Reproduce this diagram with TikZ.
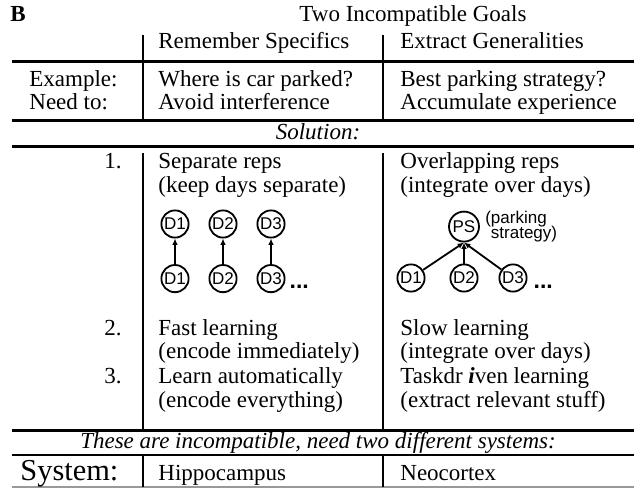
\documentclass[tikz,border=0pt]{standalone}
\usepackage{fontspec}
\setmainfont{Liberation Serif}
\newfontfamily\circfont{Liberation Sans}
\usetikzlibrary{positioning,arrows.meta}

\begin{document}
\begin{tikzpicture}[x=0.5pt,y=-0.5pt,
   txt/.style={anchor=base west,inner sep=0pt,font=\fontsize{11.5}{13}\selectfont},
   num/.style={txt,anchor=base east},
   mid/.style={txt,anchor=base,font=\fontsize{11.5}{13}\selectfont\itshape},
   rule/.style={line width=1.5pt},
   sep/.style={line width=1.2pt},
   day/.style={circle,draw,line width=0.9pt,minimum size=13.6pt,inner sep=0.3pt,
     font=\circfont\fontsize{8.5}{9}\selectfont},
   arr/.style={-{Latex[length=3.2pt,width=2.8pt]},line width=0.9pt},
   dots/.style={inner sep=0pt,font=\circfont\bfseries\fontsize{11.5}{13}\selectfont},
   node distance=12.8pt and 9.5pt]

 \useasboundingbox (0,0) rectangle (634,488);

 \node[txt,font=\fontsize{11.5}{13}\selectfont\bfseries] (panel) at (10,21) {B};
 \node[mid,font=\fontsize{11.5}{13}\selectfont] (goals) at (413,21) {Two Incompatible Goals};
 \node[txt] (spec) at (158,48) {Remember Specifics};
 \node[txt] (gen) at (400,48) {Extract Generalities};

 \draw[rule] (12,61) -- (634,61);
 \draw[rule] (12,120) -- (634,120);
 \draw[rule] (12,146) -- (634,146);
 \draw[rule] (12,430) -- (634,430);
 \draw[line width=1pt] (12,455) -- (634,455);
 \draw[line width=0.8pt,black!40] (12,487) -- (634,487);
 \foreach \x in {143,383}
 {\draw[sep] (\x,35) -- (\x,120);
  \draw[sep] (\x,153) -- (\x,430);
  \draw[sep] (\x,455) -- (\x,487);}

 \node[txt] (ex) at (29,86) {Example:};
 \node[txt] (need) at (29,109) {Need to:};
 \node[txt] (ex1) at (158,86) {Where is car parked?};
 \node[txt] (need1) at (158,109) {Avoid interference};
 \node[txt] (ex2) at (400,86) {Best parking strategy?};
 \node[txt] (need2) at (400,109) {Accumulate experience};

 \node[mid] (sol) at (318,139) {Solution:};

 \node[num] (n1) at (122,168) {1.};
 \node[txt] (s1a) at (158,168) {Separate reps};
 \node[txt] (s1b) at (158,192) {(keep days separate)};
 \node[txt] (g1a) at (400,168) {Overlapping reps};
 \node[txt] (g1b) at (400,192) {(integrate over days)};

 \node[day] (t1) at (175,224) {D1};
 \node[day,right=of t1] (t2) {D2};
 \node[day,right=of t2] (t3) {D3};
 \node[day,below=of t1] (b1) {D1};
 \node[day,below=of t2] (b2) {D2};
 \node[day,below=of t3] (b3) {D3};
 \foreach \i in {1,2,3}
 {\draw[arr] (b\i) -- (t\i);}
 \node[dots,right=4pt of b3.south east,anchor=base west] (more1) {...};

 \node[day] (r2) at (464,278) {D2};
 \node[day,left=12pt of r2] (r1) {D1};
 \node[day,right=10pt of r2] (r3) {D3};
 \node[day,above=10.5pt of r2,minimum size=15pt] (ps) {PS};
 \node[right=2.5pt of ps,inner sep=0pt,align=left,font=\circfont\fontsize{8.5}{8}\selectfont] (psnote) {(parking\\\hphantom{(}strategy)};
 \foreach \i in {1,2,3}
 {\draw[arr] (r\i) -- (ps.south);}
 \node[dots,right=5pt of r3.south east,anchor=base west] (more2) {...};

 \node[num] (n2) at (122,335) {2.};
 \node[txt] (s2a) at (158,335) {Fast learning};
 \node[txt] (s2b) at (158,358) {(encode immediately)};
 \node[txt] (g2a) at (400,335) {Slow learning};
 \node[txt] (g2b) at (400,358) {(integrate over days)};

 \node[num] (n3) at (122,383) {3.};
 \node[txt] (s3a) at (158,383) {Learn automatically};
 \node[txt] (s3b) at (158,407) {(encode everything)};
 \node[txt] (g3a) at (400,383) {Taskdr\ \textbf{\textit{i}}ven learning};
 \node[txt] (g3b) at (400,407) {(extract relevant stuff)};

 \node[mid] (incomp) at (318,448) {These are incompatible, need two different systems:};

 \node[txt,font=\fontsize{15.2}{17}\selectfont] (sys) at (20,480) {System:};
 \node[txt] (hip) at (158,480) {Hippocampus};
 \node[txt] (neo) at (400,480) {Neocortex};

\end{tikzpicture}
\end{document}
